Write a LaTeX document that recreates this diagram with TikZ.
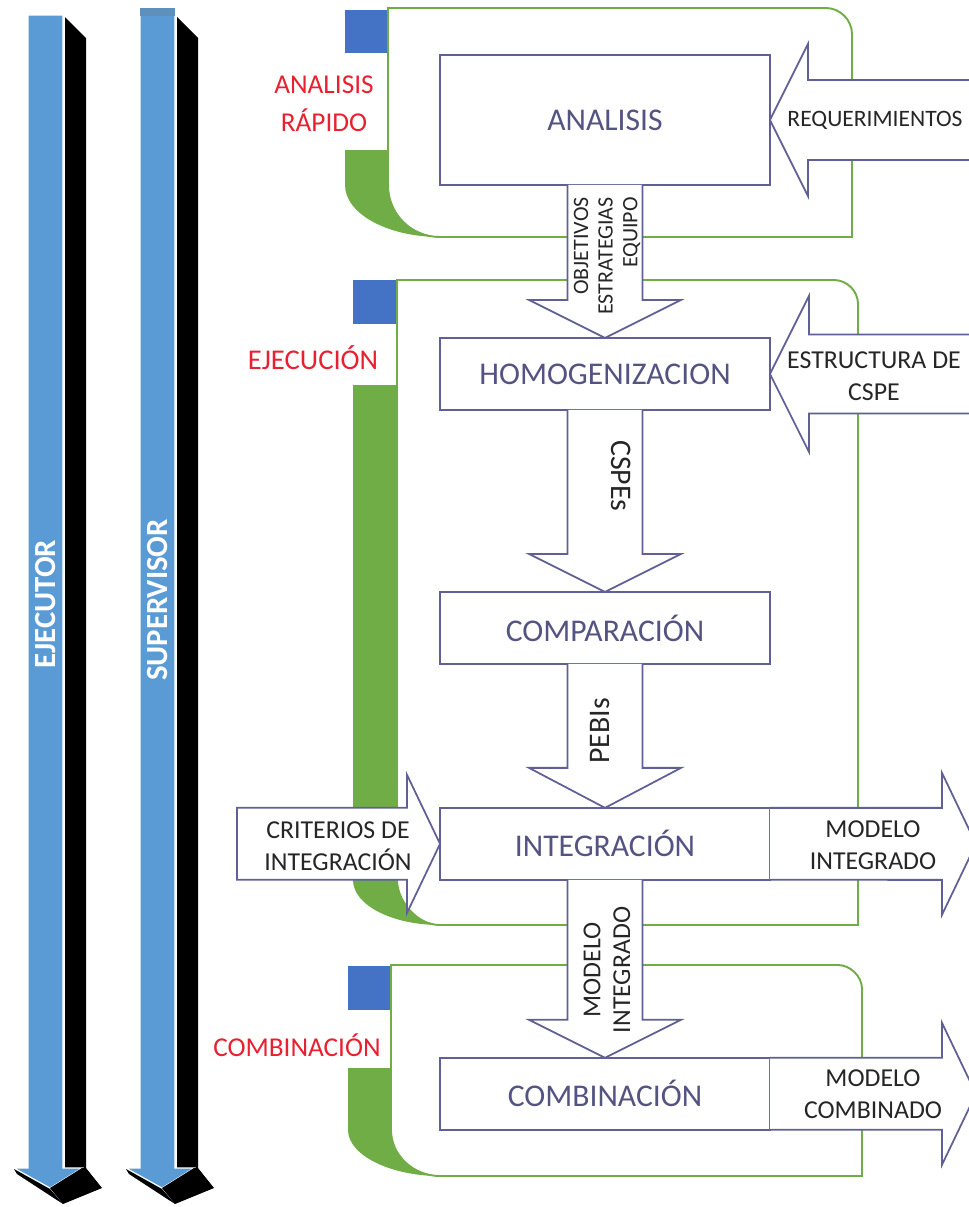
\documentclass[tikz,border=0pt]{standalone}
\usepackage{fontspec}
\setmainfont{Carlito}
\usepackage{xcolor}
\usepackage{tikz}
\usetikzlibrary{positioning,calc}

\definecolor{marco}{RGB}{112,173,71}
\definecolor{cuadro}{RGB}{68,114,196}
\definecolor{barra}{RGB}{91,155,213}
\definecolor{borde}{RGB}{96,96,150}
\definecolor{textofase}{RGB}{84,84,130}
\definecolor{rojo}{RGB}{232,32,48}

\begin{document}
\begin{tikzpicture}[x=0.02cm, y=-0.02cm,
  fase/.style={draw=borde, line width=1.1pt, fill=white, text=textofase, font=\fontsize{18}{21}\selectfont, minimum width=6.6cm, minimum height=1.44cm, inner sep=0pt, outer sep=0pt},
  flecha/.style={draw=borde, line width=1pt, fill=white, line join=miter},
  dato/.style={align=center, text=black!85, font=\fontsize{14.7}{18}\selectfont},
  etapa/.style={text=rojo, align=center, font=\fontsize{15.5}{21.5}\selectfont},
  marcolinea/.style={draw=marco, line width=1.1pt},
  rol/.style={text=white, rotate=90, font=\bfseries\fontsize{17.5}{20}\selectfont}]
\useasboundingbox (0,0) rectangle (969,1207);
\clip (0,0) rectangle (969,1207);

% barras de roles
\foreach \dx in {0,112} {
  \fill[black] (65+\dx,17) -- (86+\dx,38) -- (86+\dx,1168) -- (65+\dx,1168) -- cycle;
  \filldraw[barra, draw=white, line width=0.6pt] (28+\dx,15) -- (63+\dx,15) -- (63+\dx,1168) -- (82+\dx,1168) -- (50+\dx,1188) -- (14+\dx,1168) -- (28+\dx,1168) -- cycle;
  \fill[black] (50+\dx,1188) -- (82+\dx,1168) -- (86+\dx,1168) -- (102+\dx,1188) -- (63+\dx,1204) -- cycle;
  \fill[black] (14+\dx,1169) -- (50+\dx,1189) -- (63+\dx,1204) -- (17+\dx,1174) -- cycle;
}
\fill[barra!85!black!90] (140,8) rectangle (175,16);
\node[rol] (ejecutor) at (46,604) {EJECUTOR};
\node[rol] (supervisor) at (158,600) {SUPERVISOR};

% fases
\node[fase, minimum height=2.6cm] (analisis) at (605,120) {ANALISIS};
\node[fase, below=3.06cm of analisis] (homog) {HOMOGENIZACION};
\node[fase, below=3.64cm of homog] (comp) {COMPARACIÓN};
\node[fase, below=2.88cm of comp] (integ) {INTEGRACIÓN};
\node[fase, below=3.56cm of integ] (comb) {COMBINACIÓN};

% marcos de etapas
\fill[cuadro] (345,10) rectangle (388,53);
\fill[marco] (345,150) -- (345,185) .. controls (345,214) and (388,237) .. (440,237) .. controls (411,237) and (388,214) .. (388,185) -- (388,150) -- cycle;
\draw[marcolinea] (388,8) -- (826,8) .. controls (840,8) and (852,20) .. (852,34) -- (852,237) -- (440,237) .. controls (411,237) and (388,214) .. (388,185) -- cycle;

\fill[cuadro] (353,280) rectangle (397,324);
\fill[marco] (353,385) -- (353,880) .. controls (353,905) and (392,925) .. (440,925) .. controls (416,925) and (397,900) .. (397,880) -- (397,385) -- cycle;
\draw[marcolinea] (397,280) -- (834,280) .. controls (847,280) and (858,291) .. (858,304) -- (858,925) -- (440,925) .. controls (416,925) and (397,900) .. (397,880) -- cycle;

\fill[cuadro] (348,966) rectangle (391,1010);
\fill[marco] (348,1068) -- (348,1130) .. controls (348,1155) and (390,1176) .. (440,1176) .. controls (413,1176) and (391,1155) .. (391,1130) -- (391,1068) -- cycle;
\draw[marcolinea] (391,965) -- (838,965) .. controls (850,965) and (862,976) .. (862,989) -- (862,1176) -- (440,1176) .. controls (413,1176) and (391,1155) .. (391,1130) -- cycle;

\node[etapa] (lblanalisis) at (324,104) {ANALISIS\\RÁPIDO};
\node[etapa, font=\fontsize{16.3}{20}\selectfont] (lblejec) at (313,358) {EJECUCIÓN};
\node[etapa] (lblcomb) at (297,1045) {COMBINACIÓN};

% flechas entre fases
\draw[flecha] ($(analisis.south)+(-37.5,0)$) |- ($(homog.north)+(-76,-38)$) -- (homog.north) -- ++(76,-38) -| ($(analisis.south)+(37.5,0)$);
\draw[flecha] ($(homog.south)+(-37.5,0)$) |- ($(comp.north)+(-76,-38)$) -- (comp.north) -- ++(76,-38) -| ($(homog.south)+(37.5,0)$);
\draw[flecha] ($(comp.south)+(-37.5,0)$) |- ($(integ.north)+(-76,-40)$) -- (integ.north) -- ++(76,-40) -| ($(comp.south)+(37.5,0)$);
\draw[flecha] ($(integ.south)+(-37.5,0)$) |- ($(comb.north)+(-76,-38)$) -- (comb.north) -- ++(76,-38) -| ($(integ.south)+(37.5,0)$);

% entradas y salidas
\draw[flecha] (analisis.east) -- ++(38,-76) -- ++(0,36) -- ++(200,0) -- ++(0,80) -- ++(-200,0) -- ++(0,36) -- cycle;
\draw[flecha] (homog.east) -- ++(39,-78) -- ++(0,38.5) -- ++(200,0) -- ++(0,79) -- ++(-200,0) -- ++(0,38.5) -- cycle;
\draw[flecha] (integ.west) -- ++(-33,-69) -- ++(0,33) -- ++(-170,0) -- ++(0,72) -- ++(170,0) -- ++(0,33) -- cycle;
\draw[flecha] (integ.north east) -- ++(172,0) -- ++(0,-35) -- ++(34,71) -- ++(-34,71) -- ++(0,-35) -- (integ.south east);
\draw[flecha] (comb.north east) -- ++(172,0) -- ++(0,-35) -- ++(34,71) -- ++(-34,71) -- ++(0,-35) -- (comb.south east);

\node[dato, rotate=90, align=right, font=\fontsize{12.5}{14}\selectfont] (objetivos) at (607,256) {OBJETIVOS\\ESTRATEGIAS\\EQUIPO};
\node[dato, rotate=-90, font=\fontsize{17}{20}\selectfont] (cspes) at (621,476) {CSPEs};
\node[dato, rotate=90, font=\fontsize{17}{20}\selectfont] (pebis) at (600,731) {PEBIs};
\node[dato, rotate=90, font=\fontsize{14.7}{17}\selectfont] (modint) at (607,970) {MODELO\\INTEGRADO};
\node[dato, font=\fontsize{13.4}{16}\selectfont] (req) at (875,120) {REQUERIMIENTOS};
\node[dato] (estr) at (874,376) {ESTRUCTURA DE\\CSPE};
\node[dato] (crit) at (338,846) {CRITERIOS DE\\INTEGRACIÓN};
\node[dato] (salint) at (873,845) {MODELO\\INTEGRADO};
\node[dato] (salcomb) at (873,1094) {MODELO\\COMBINADO};
\end{tikzpicture}
\end{document}
